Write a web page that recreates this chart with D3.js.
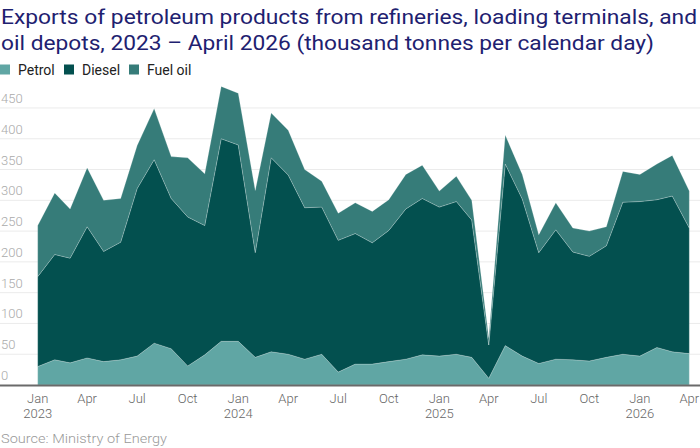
<!DOCTYPE html>
<html><head><meta charset="utf-8">
<script src="https://cdn.jsdelivr.net/npm/d3@7/dist/d3.min.js"></script>
<style>
html,body{margin:0;padding:0;background:#fff;}
svg{display:block;font-family:Roboto,"Liberation Sans",sans-serif;}
</style></head>
<body><svg id="c" width="700" height="448"></svg>
<script>
const months = d3.range(40).map(i => new Date(2023, i, 1));
const petrol = [30,41,36,44,38,41,47,68,59,31,49,71,71,45,54,50,42,50,21,34,34,38,42,49,47,50,45,11,64,47,35,42,41,39,45,50,47,61,54,51];
const diesel = [146,171,170,213,179,191,272,298,244,242,210,329,319,170,315,291,246,239,214,212,197,213,244,254,242,248,223,54,295,255,180,210,175,170,181,247,251,240,253,204];
const fuelOil = [83,100,80,96,83,71,70,83,68,96,84,85,84,101,73,73,62,42,44,50,51,50,56,54,26,41,32,12,47,40,29,44,39,41,31,50,44,58,66,60];
const seriesNames = ["Petrol","Diesel","Fuel oil"];
const seriesKeys = ["petrol","diesel","fuelOil"];
const colors = ["#60a6a4","#03504f","#367c79"];
const yTicks = [0,50,100,150,200,250,300,350,400,450];
const titleLines = ["Exports of petroleum products from refineries, loading terminals, and",
                    "oil depots, 2023 \u2013 April 2026 (thousand tonnes per calendar day)"];
const titleWidths = [696, 653];
const source = "Source: Ministry of Energy";

const rows = months.map((m,i)=>({date:m, petrol:petrol[i], diesel:diesel[i], fuelOil:fuelOil[i]}));
const svg = d3.select("#c");
const W = 700;
const x = d3.scaleTime().domain([months[0], months[months.length-1]]).range([37.7, 689.3]);
const y = d3.scaleLinear().domain([0,500]).range([385, 77.2]);

// title
svg.append("g").selectAll("text").data(titleLines).join("text")
  .attr("x",1).attr("y",(d,i)=>24+i*26)
  .attr("fill","#1e2170").attr("font-size",20.5)
  .attr("textLength",(d,i)=>titleWidths[i]).attr("lengthAdjust","spacingAndGlyphs").text(d=>d);

// legend
const lx = [0,64,129];
const lg = svg.append("g").selectAll("g").data(seriesNames).join("g")
  .attr("transform",(d,i)=>`translate(${lx[i]},64.5)`);
lg.append("rect").attr("width",10).attr("height",10).attr("fill",(d,i)=>colors[i]);
lg.append("text").attr("x",18).attr("y",10).attr("font-size",14).attr("fill","#222").text(d=>d);

// grid
const g = svg.append("g");
g.selectAll("line.grid").data(yTicks.filter(d=>d>0)).join("line")
  .attr("x1",0).attr("x2",W).attr("y1",d=>y(d)).attr("y2",d=>y(d))
  .attr("stroke","#ebebeb").attr("stroke-width",1);
g.selectAll("text.yl").data(yTicks).join("text")
  .attr("x",1).attr("y",d=>y(d)-5).attr("font-size",13).attr("fill","#aaa").attr("font-weight",300).text(d=>d);

// areas
const stack = d3.stack().keys(seriesKeys)(rows);
const area = d3.area().x(d=>x(d.data.date)).y0(d=>y(d[0])).y1(d=>y(d[1]));
svg.append("g").selectAll("path").data(stack).join("path")
  .attr("d",area).attr("fill",(d,i)=>colors[i])
  .attr("stroke","rgba(255,255,255,0.35)").attr("stroke-width",0.6).attr("stroke-linejoin","round");

// baseline
svg.append("line").attr("x1",0).attr("x2",W).attr("y1",y(0)+0.5).attr("y2",y(0)+0.5)
  .attr("stroke","#6a6a6a").attr("stroke-width",2);

// x axis
const xTicks = months.filter((m,i)=>i%3===0);
const fmt = d3.timeFormat("%b");
const xa = svg.append("g").selectAll("text").data(xTicks).join("text")
  .attr("text-anchor","middle").attr("font-size",13).attr("fill","#666").attr("font-weight",300)
  .attr("transform",d=>`translate(${x(d)},0)`);
xa.append("tspan").attr("x",0).attr("y",403).text(d=>fmt(d));
xa.filter(d=>d.getMonth()===0).append("tspan").attr("x",0).attr("y",418).text(d=>d.getFullYear());

svg.append("text").attr("x",1).attr("y",443).attr("font-size",13.5).attr("fill","#999").attr("font-weight",300)
  .attr("textLength",166).attr("lengthAdjust","spacingAndGlyphs").text(source);
</script></body></html>
